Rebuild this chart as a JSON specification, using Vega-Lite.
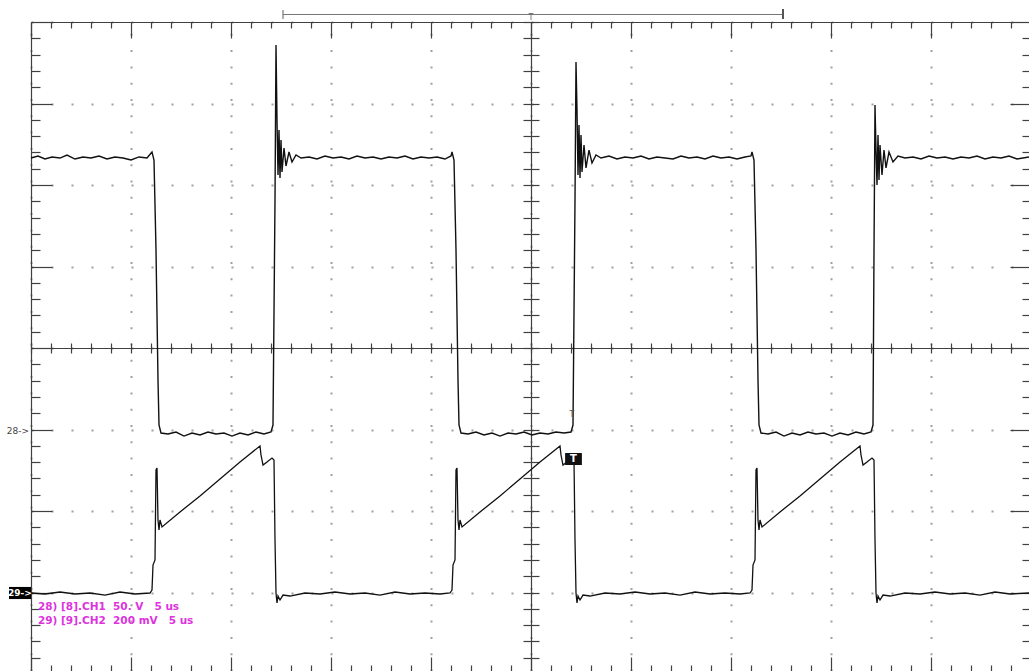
{
  "$schema": "https://vega.github.io/schema/vega-lite/v6.json",
  "width": 998,
  "height": 649,
  "autosize": {"type": "none"},
  "padding": {"left": 31, "top": 22, "right": 0, "bottom": 0},
  "background": "white",
  "config": {"view": {"stroke": null}},
  "datasets": {
    "ch1": [
      {"t": -25, "v": 2.331}, {"t": -24.65, "v": 2.356}, {"t": -24.3, "v": 2.319}, {"t": -23.95, "v": 2.344}, {"t": -23.55, "v": 2.331}, {"t": -23.2, "v": 2.368}, {"t": -22.8, "v": 2.319}, {"t": -22.4, "v": 2.344}, {"t": -22.0, "v": 2.331}, {"t": -21.6, "v": 2.356}, {"t": -21.2, "v": 2.319}, {"t": -20.8, "v": 2.344}, {"t": -20.4, "v": 2.331}, {"t": -20.0, "v": 2.307}, {"t": -19.6, "v": 2.344}, {"t": -19.2, "v": 2.331}, {"t": -18.95, "v": 2.405}, {"t": -18.85, "v": 2.307}, {"t": -18.75, "v": 1.202}, {"t": -18.65, "v": -0.393}, {"t": -18.6, "v": -0.945}, {"t": -18.5, "v": -1.043},
      {"t": -18.15, "v": -1.055}, {"t": -17.75, "v": -1.031}, {"t": -17.35, "v": -1.08}, {"t": -16.95, "v": -1.043}, {"t": -16.55, "v": -1.067}, {"t": -16.15, "v": -1.031}, {"t": -15.75, "v": -1.055}, {"t": -15.35, "v": -1.043}, {"t": -14.95, "v": -1.08}, {"t": -14.55, "v": -1.043}, {"t": -14.15, "v": -1.067}, {"t": -13.75, "v": -1.031}, {"t": -13.35, "v": -1.055}, {"t": -13.0, "v": -1.031}, {"t": -12.9, "v": -0.945}, {"t": -12.8, "v": 1.816}, {"t": -12.75, "v": 3.718}, {"t": -12.7, "v": 2.798}, {"t": -12.65, "v": 2.123}, {"t": -12.6, "v": 2.675}, {"t": -12.55, "v": 2.086}, {"t": -12.5, "v": 2.552}, {"t": -12.45, "v": 2.16}, {"t": -12.35, "v": 2.454}, {"t": -12.25, "v": 2.233}, {"t": -12.1, "v": 2.405}, {"t": -11.95, "v": 2.282}, {"t": -11.75, "v": 2.368}, {"t": -11.5, "v": 2.331},
      {"t": -11.1, "v": 2.344}, {"t": -10.7, "v": 2.319}, {"t": -10.3, "v": 2.356}, {"t": -9.9, "v": 2.331}, {"t": -9.5, "v": 2.344}, {"t": -9.1, "v": 2.319}, {"t": -8.7, "v": 2.356}, {"t": -8.3, "v": 2.331}, {"t": -7.9, "v": 2.344}, {"t": -7.5, "v": 2.319}, {"t": -7.1, "v": 2.344}, {"t": -6.7, "v": 2.331}, {"t": -6.3, "v": 2.356}, {"t": -5.9, "v": 2.319}, {"t": -5.5, "v": 2.344}, {"t": -5.1, "v": 2.331}, {"t": -4.7, "v": 2.344}, {"t": -4.3, "v": 2.319}, {"t": -4.0, "v": 2.356}, {"t": -3.95, "v": 2.405}, {"t": -3.85, "v": 2.307}, {"t": -3.75, "v": 1.202}, {"t": -3.65, "v": -0.393}, {"t": -3.6, "v": -0.945}, {"t": -3.5, "v": -1.043},
      {"t": -3.15, "v": -1.055}, {"t": -2.75, "v": -1.031}, {"t": -2.35, "v": -1.067}, {"t": -1.95, "v": -1.043}, {"t": -1.55, "v": -1.08}, {"t": -1.15, "v": -1.043}, {"t": -0.75, "v": -1.055}, {"t": -0.35, "v": -1.031}, {"t": 0.05, "v": -1.067}, {"t": 0.45, "v": -1.043}, {"t": 0.85, "v": -1.055}, {"t": 1.25, "v": -1.031}, {"t": 1.65, "v": -1.043}, {"t": 2.0, "v": -1.031}, {"t": 2.1, "v": -0.945}, {"t": 2.2, "v": 1.816}, {"t": 2.25, "v": 3.509}, {"t": 2.3, "v": 2.92}, {"t": 2.35, "v": 2.123}, {"t": 2.4, "v": 2.736}, {"t": 2.45, "v": 2.086}, {"t": 2.5, "v": 2.613}, {"t": 2.55, "v": 2.16}, {"t": 2.65, "v": 2.491}, {"t": 2.75, "v": 2.209}, {"t": 2.9, "v": 2.429}, {"t": 3.05, "v": 2.27}, {"t": 3.25, "v": 2.368}, {"t": 3.5, "v": 2.331},
      {"t": 3.9, "v": 2.356}, {"t": 4.3, "v": 2.319}, {"t": 4.7, "v": 2.344}, {"t": 5.1, "v": 2.331}, {"t": 5.5, "v": 2.356}, {"t": 5.9, "v": 2.319}, {"t": 6.3, "v": 2.344}, {"t": 6.7, "v": 2.331}, {"t": 7.1, "v": 2.319}, {"t": 7.5, "v": 2.356}, {"t": 7.9, "v": 2.331}, {"t": 8.3, "v": 2.344}, {"t": 8.7, "v": 2.319}, {"t": 9.1, "v": 2.356}, {"t": 9.5, "v": 2.331}, {"t": 9.9, "v": 2.344}, {"t": 10.3, "v": 2.319}, {"t": 10.7, "v": 2.344}, {"t": 11.0, "v": 2.356}, {"t": 11.05, "v": 2.405}, {"t": 11.15, "v": 2.307}, {"t": 11.25, "v": 1.202}, {"t": 11.35, "v": -0.393}, {"t": 11.4, "v": -0.945}, {"t": 11.5, "v": -1.043},
      {"t": 11.85, "v": -1.055}, {"t": 12.25, "v": -1.031}, {"t": 12.65, "v": -1.08}, {"t": 13.05, "v": -1.043}, {"t": 13.45, "v": -1.067}, {"t": 13.85, "v": -1.031}, {"t": 14.25, "v": -1.055}, {"t": 14.65, "v": -1.043}, {"t": 15.05, "v": -1.08}, {"t": 15.45, "v": -1.043}, {"t": 15.85, "v": -1.067}, {"t": 16.25, "v": -1.031}, {"t": 16.65, "v": -1.055}, {"t": 17.0, "v": -1.031}, {"t": 17.1, "v": -0.945}, {"t": 17.15, "v": 1.202}, {"t": 17.2, "v": 2.982}, {"t": 17.25, "v": 2.429}, {"t": 17.3, "v": 2.0}, {"t": 17.35, "v": 2.613}, {"t": 17.4, "v": 2.061}, {"t": 17.45, "v": 2.491}, {"t": 17.55, "v": 2.123}, {"t": 17.65, "v": 2.429}, {"t": 17.75, "v": 2.209}, {"t": 17.9, "v": 2.405}, {"t": 18.1, "v": 2.282}, {"t": 18.35, "v": 2.356}, {"t": 18.7, "v": 2.331},
      {"t": 19.1, "v": 2.344}, {"t": 19.5, "v": 2.319}, {"t": 19.9, "v": 2.356}, {"t": 20.3, "v": 2.331}, {"t": 20.7, "v": 2.344}, {"t": 21.1, "v": 2.319}, {"t": 21.5, "v": 2.344}, {"t": 21.9, "v": 2.331}, {"t": 22.3, "v": 2.356}, {"t": 22.7, "v": 2.319}, {"t": 23.1, "v": 2.344}, {"t": 23.5, "v": 2.331}, {"t": 23.9, "v": 2.356}, {"t": 24.3, "v": 2.319}, {"t": 24.9, "v": 2.344}
    ],
    "ch2": [
      {"t": -25, "v": -3.006}, {"t": -24.3, "v": -3.018}, {"t": -23.55, "v": -2.994}, {"t": -22.8, "v": -3.018}, {"t": -22.05, "v": -3.006}, {"t": -21.3, "v": -3.031}, {"t": -20.55, "v": -2.994}, {"t": -19.8, "v": -3.018}, {"t": -19.05, "v": -3.006},
      {"t": -18.95, "v": -2.969}, {"t": -18.9, "v": -2.663}, {"t": -18.8, "v": -2.601}, {"t": -18.75, "v": -1.497}, {"t": -18.7, "v": -1.472}, {"t": -18.65, "v": -2.11}, {"t": -18.6, "v": -2.233}, {"t": -18.55, "v": -2.11}, {"t": -18.45, "v": -2.196}, {"t": -17.55, "v": -2.012}, {"t": -16.55, "v": -1.816}, {"t": -15.55, "v": -1.607}, {"t": -14.55, "v": -1.399}, {"t": -13.55, "v": -1.202}, {"t": -13.5, "v": -1.313}, {"t": -13.4, "v": -1.436}, {"t": -13.2, "v": -1.399}, {"t": -12.95, "v": -1.35}, {"t": -12.85, "v": -1.374}, {"t": -12.8, "v": -2.356}, {"t": -12.75, "v": -3.006}, {"t": -12.7, "v": -3.129}, {"t": -12.65, "v": -3.043}, {"t": -12.55, "v": -3.092}, {"t": -12.4, "v": -3.031}, {"t": -12.05, "v": -3.043},
      {"t": -11.3, "v": -3.006}, {"t": -10.55, "v": -3.018}, {"t": -9.8, "v": -2.994}, {"t": -9.05, "v": -3.018}, {"t": -8.3, "v": -3.006}, {"t": -7.55, "v": -3.031}, {"t": -6.8, "v": -2.994}, {"t": -6.05, "v": -3.018}, {"t": -5.3, "v": -3.006}, {"t": -4.55, "v": -3.018}, {"t": -4.05, "v": -3.006},
      {"t": -3.95, "v": -2.969}, {"t": -3.9, "v": -2.663}, {"t": -3.8, "v": -2.601}, {"t": -3.75, "v": -1.497}, {"t": -3.7, "v": -1.472}, {"t": -3.65, "v": -2.11}, {"t": -3.6, "v": -2.233}, {"t": -3.55, "v": -2.11}, {"t": -3.45, "v": -2.196}, {"t": -2.55, "v": -2.012}, {"t": -1.55, "v": -1.816}, {"t": -0.55, "v": -1.607}, {"t": 0.45, "v": -1.399}, {"t": 1.45, "v": -1.202}, {"t": 1.5, "v": -1.313}, {"t": 1.6, "v": -1.436}, {"t": 1.8, "v": -1.399}, {"t": 2.05, "v": -1.35}, {"t": 2.15, "v": -1.374}, {"t": 2.2, "v": -2.356}, {"t": 2.25, "v": -3.006}, {"t": 2.3, "v": -3.129}, {"t": 2.35, "v": -3.043}, {"t": 2.45, "v": -3.092}, {"t": 2.6, "v": -3.031}, {"t": 2.95, "v": -3.043},
      {"t": 3.7, "v": -3.006}, {"t": 4.45, "v": -3.018}, {"t": 5.2, "v": -2.994}, {"t": 5.95, "v": -3.018}, {"t": 6.7, "v": -3.006}, {"t": 7.45, "v": -3.031}, {"t": 8.2, "v": -2.994}, {"t": 8.95, "v": -3.018}, {"t": 9.7, "v": -3.006}, {"t": 10.45, "v": -3.018}, {"t": 10.95, "v": -3.006},
      {"t": 11.05, "v": -2.969}, {"t": 11.1, "v": -2.663}, {"t": 11.2, "v": -2.601}, {"t": 11.25, "v": -1.497}, {"t": 11.3, "v": -1.472}, {"t": 11.35, "v": -2.11}, {"t": 11.4, "v": -2.233}, {"t": 11.45, "v": -2.11}, {"t": 11.55, "v": -2.196}, {"t": 12.45, "v": -2.012}, {"t": 13.45, "v": -1.816}, {"t": 14.45, "v": -1.607}, {"t": 15.45, "v": -1.399}, {"t": 16.45, "v": -1.202}, {"t": 16.5, "v": -1.313}, {"t": 16.6, "v": -1.436}, {"t": 16.8, "v": -1.399}, {"t": 17.05, "v": -1.35}, {"t": 17.15, "v": -1.374}, {"t": 17.2, "v": -2.356}, {"t": 17.25, "v": -3.006}, {"t": 17.3, "v": -3.129}, {"t": 17.35, "v": -3.043}, {"t": 17.45, "v": -3.092}, {"t": 17.6, "v": -3.031}, {"t": 17.95, "v": -3.043},
      {"t": 18.7, "v": -3.006}, {"t": 19.45, "v": -3.018}, {"t": 20.2, "v": -2.994}, {"t": 20.95, "v": -3.018}, {"t": 21.7, "v": -3.006}, {"t": 22.45, "v": -3.031}, {"t": 23.2, "v": -2.994}, {"t": 23.95, "v": -3.018}, {"t": 24.9, "v": -3.006}
    ],
    "trigger": [{"t": 2.125, "v": -1.362}],
    "info": [
      {"v": -3.178, "label": "28) [8].CH1\u00a0\u00a050.\u00a0V\u00a0\u00a0\u00a05\u00a0us"},
      {"v": -3.35, "label": "29) [9].CH2\u00a0\u00a0200\u00a0mV\u00a0\u00a0\u00a05\u00a0us"}
    ],
    "one": [{}]
  },
  "resolve": {"axis": {"x": "independent", "y": "independent"}},
  "layer": [
    {
      "data": {"name": "ch1"},
      "mark": {"type": "line", "color": "#111111", "strokeWidth": 1.4},
      "encoding": {
        "x": {"field": "t", "type": "quantitative",
          "scale": {"domain": [-25, 24.9], "nice": false, "zero": false},
          "axis": {"orient": "top", "title": null, "labels": false,
            "values": [-25,-24,-23,-22,-21,-20,-19,-18,-17,-16,-15,-14,-13,-12,-11,-10,-9,-8,-7,-6,-5,-4,-3,-2,-1,0,1,2,3,4,5,6,7,8,9,10,11,12,13,14,15,16,17,18,19,20,21,22,23,24,25],
            "domain": true, "domainColor": "#404040", "domainWidth": 1.2,
            "tickColor": "#404040", "tickWidth": 1.2,
            "tickSize": {"condition": {"test": "datum.value % 5 === 0", "value": -16}, "value": -6},
            "grid": true, "gridColor": "#a0a0a0", "gridWidth": 2, "gridDash": [2, 14.3],
            "gridOpacity": {"condition": {"test": "datum.value % 5 === 0", "value": 1}, "value": 0}}},
        "y": {"field": "v", "type": "quantitative",
          "scale": {"domain": [-3.963, 4], "nice": false, "zero": false},
          "axis": {"orient": "left", "title": null, "labels": false,
            "values": [-4,-3.8,-3.6,-3.4,-3.2,-3,-2.8,-2.6,-2.4,-2.2,-2,-1.8,-1.6,-1.4,-1.2,-1,-0.8,-0.6,-0.4,-0.2,0,0.2,0.4,0.6,0.8,1,1.2,1.4,1.6,1.8,2,2.2,2.4,2.6,2.8,3,3.2,3.4,3.6,3.8,4],
            "domain": true, "domainColor": "#404040", "domainWidth": 1.2,
            "tickColor": "#404040", "tickWidth": 1.2,
            "tickSize": {"condition": {"test": "abs(datum.value - round(datum.value)) < 0.01", "value": -21}, "value": -9},
            "grid": true, "gridColor": "#a0a0a0", "gridWidth": 2, "gridDash": [2, 18],
            "gridOpacity": {"condition": {"test": "abs(datum.value - round(datum.value)) < 0.01", "value": 1}, "value": 0}}}
      }
    },
    {
      "data": {"name": "ch2"},
      "mark": {"type": "line", "color": "#111111", "strokeWidth": 1.3},
      "encoding": {
        "x": {"field": "t", "type": "quantitative",
          "scale": {"domain": [-25, 24.9], "nice": false, "zero": false},
          "axis": {"orient": "bottom", "offset": 3, "title": null, "labels": false, "grid": false,
            "values": [-25,-24,-23,-22,-21,-20,-19,-18,-17,-16,-15,-14,-13,-12,-11,-10,-9,-8,-7,-6,-5,-4,-3,-2,-1,0,1,2,3,4,5,6,7,8,9,10,11,12,13,14,15,16,17,18,19,20,21,22,23,24,25],
            "domain": true, "domainColor": "#404040", "domainWidth": 1.2,
            "tickColor": "#404040", "tickWidth": 1.2,
            "tickSize": {"condition": {"test": "datum.value % 5 === 0", "value": -17}, "value": -9}}},
        "y": {"field": "v", "type": "quantitative",
          "scale": {"domain": [-3.963, 4], "nice": false, "zero": false},
          "axis": {"orient": "right", "offset": 2, "title": null, "labels": false, "grid": false,
            "values": [-4,-3.8,-3.6,-3.4,-3.2,-3,-2.8,-2.6,-2.4,-2.2,-2,-1.8,-1.6,-1.4,-1.2,-1,-0.8,-0.6,-0.4,-0.2,0,0.2,0.4,0.6,0.8,1,1.2,1.4,1.6,1.8,2,2.2,2.4,2.6,2.8,3,3.2,3.4,3.6,3.8,4],
            "domain": true, "domainColor": "#404040", "domainWidth": 1.2,
            "tickColor": "#404040", "tickWidth": 1.2,
            "tickSize": {"condition": {"test": "abs(datum.value - round(datum.value)) < 0.01", "value": -21}, "value": -9}}}
      }
    },
    {
      "data": {"name": "trigger"},
      "mark": {"type": "point", "filled": true, "color": "#111111", "opacity": 1, "shape": "M-1.4,-1H1.4V1H-1.4Z", "size": 144, "clip": false},
      "encoding": {
        "x": {"field": "t", "type": "quantitative",
          "scale": {"domain": [-25, 24.9], "nice": false, "zero": false},
          "axis": {"orient": "bottom", "offset": -323, "title": null, "labels": false, "grid": false,
            "values": [-25,-24,-23,-22,-21,-20,-19,-18,-17,-16,-15,-14,-13,-12,-11,-10,-9,-8,-7,-6,-5,-4,-3,-2,-1,0,1,2,3,4,5,6,7,8,9,10,11,12,13,14,15,16,17,18,19,20,21,22,23,24,25],
            "domain": true, "domainColor": "#404040", "domainWidth": 1.2,
            "tickColor": "#404040", "tickWidth": 1.2, "tickSize": 5}},
        "y": {"field": "v", "type": "quantitative",
          "scale": {"domain": [-3.963, 4], "nice": false, "zero": false},
          "axis": {"orient": "left", "offset": -500, "title": null, "labels": false, "grid": false,
            "values": [-4,-3.8,-3.6,-3.4,-3.2,-3,-2.8,-2.6,-2.4,-2.2,-2,-1.8,-1.6,-1.4,-1.2,-1,-0.8,-0.6,-0.4,-0.2,0,0.2,0.4,0.6,0.8,1,1.2,1.4,1.6,1.8,2,2.2,2.4,2.6,2.8,3,3.2,3.4,3.6,3.8,4],
            "domain": true, "domainColor": "#404040", "domainWidth": 1.2,
            "tickColor": "#404040", "tickWidth": 1.2, "tickSize": 8}}
      }
    },
    {
      "data": {"name": "trigger"},
      "mark": {"type": "text", "text": "T", "color": "white", "font": "DejaVu Sans", "fontSize": 10, "fontWeight": "bold", "align": "center", "baseline": "middle", "clip": false},
      "encoding": {
        "x": {"field": "t", "type": "quantitative",
          "scale": {"domain": [-25, 24.9], "nice": false, "zero": false},
          "axis": {"orient": "top", "offset": -326, "title": null, "labels": false, "grid": false,
            "values": [-25,-24,-23,-22,-21,-20,-19,-18,-17,-16,-15,-14,-13,-12,-11,-10,-9,-8,-7,-6,-5,-4,-3,-2,-1,0,1,2,3,4,5,6,7,8,9,10,11,12,13,14,15,16,17,18,19,20,21,22,23,24,25],
            "domain": false, "tickColor": "#404040", "tickWidth": 1.2, "tickSize": 5}},
        "y": {"field": "v", "type": "quantitative",
          "scale": {"domain": [-3.963, 4], "nice": false, "zero": false},
          "axis": {"orient": "right", "offset": -498, "title": null, "labels": false, "grid": false,
            "values": [-4,-3.8,-3.6,-3.4,-3.2,-3,-2.8,-2.6,-2.4,-2.2,-2,-1.8,-1.6,-1.4,-1.2,-1,-0.8,-0.6,-0.4,-0.2,0,0.2,0.4,0.6,0.8,1,1.2,1.4,1.6,1.8,2,2.2,2.4,2.6,2.8,3,3.2,3.4,3.6,3.8,4],
            "domain": false, "tickColor": "#404040", "tickWidth": 1.2, "tickSize": 8}}
      }
    },
    {
      "data": {"name": "one"},
      "mark": {"type": "text", "text": "T", "color": "#555555", "font": "DejaVu Sans", "fontSize": 8, "align": "center", "baseline": "middle", "clip": false},
      "encoding": {
        "x": {"datum": 2.05, "type": "quantitative", "axis": null},
        "y": {"datum": -0.82, "type": "quantitative", "axis": null}
      }
    },
    {
      "data": {"name": "one"},
      "mark": {"type": "text", "text": "28->", "color": "#444444", "font": "DejaVu Sans", "fontSize": 9, "align": "right", "baseline": "middle", "dx": -2, "clip": false},
      "encoding": {
        "x": {"datum": -25, "type": "quantitative", "axis": null},
        "y": {"datum": -1.018, "type": "quantitative", "axis": null}
      }
    },
    {
      "data": {"name": "one"},
      "mark": {"type": "point", "filled": true, "color": "#000000", "opacity": 1, "shape": "M-2,-0.55H0V0.55H-2Z", "size": 484, "clip": false},
      "encoding": {
        "x": {"datum": -25, "type": "quantitative", "axis": null},
        "y": {"datum": -3.006, "type": "quantitative", "axis": null}
      }
    },
    {
      "data": {"name": "one"},
      "mark": {"type": "text", "text": "29->", "color": "white", "font": "DejaVu Sans", "fontSize": 9, "fontWeight": "bold", "align": "center", "baseline": "middle", "dx": -11, "clip": false},
      "encoding": {
        "x": {"datum": -25, "type": "quantitative", "axis": null},
        "y": {"datum": -3.006, "type": "quantitative", "axis": null}
      }
    },
    {
      "data": {"name": "info"},
      "mark": {"type": "text", "color": "#dd33dd", "font": "DejaVu Sans", "fontSize": 10.5, "fontWeight": "bold", "align": "left", "baseline": "middle", "clip": false},
      "encoding": {
        "x": {"datum": -24.65, "type": "quantitative", "axis": null},
        "y": {"field": "v", "type": "quantitative", "axis": null},
        "text": {"field": "label"}
      }
    },
    {
      "data": {"name": "one"},
      "mark": {"type": "rule", "color": "#777777", "strokeWidth": 1.2, "clip": false},
      "encoding": {
        "x": {"datum": -12.4, "type": "quantitative", "axis": null},
        "x2": {"datum": 12.6},
        "y": {"datum": 4.092, "type": "quantitative", "axis": null}
      }
    },
    {
      "data": {"name": "one"},
      "mark": {"type": "rule", "color": "#777777", "strokeWidth": 1.2, "clip": false},
      "encoding": {
        "x": {"datum": -12.4, "type": "quantitative", "axis": null},
        "y": {"datum": 4.147, "type": "quantitative", "axis": null},
        "y2": {"datum": 4.037}
      }
    },
    {
      "data": {"name": "one"},
      "mark": {"type": "rule", "color": "#555555", "strokeWidth": 2, "clip": false},
      "encoding": {
        "x": {"datum": 12.6, "type": "quantitative", "axis": null},
        "y": {"datum": 4.16, "type": "quantitative", "axis": null},
        "y2": {"datum": 4.037}
      }
    },
    {
      "data": {"name": "one"},
      "mark": {"type": "text", "text": "T", "color": "#666666", "font": "DejaVu Sans", "fontSize": 8, "align": "center", "baseline": "top", "dy": -1, "clip": false},
      "encoding": {
        "x": {"datum": 0, "type": "quantitative", "axis": null},
        "y": {"datum": 4.092, "type": "quantitative", "axis": null}
      }
    }
  ]
}
